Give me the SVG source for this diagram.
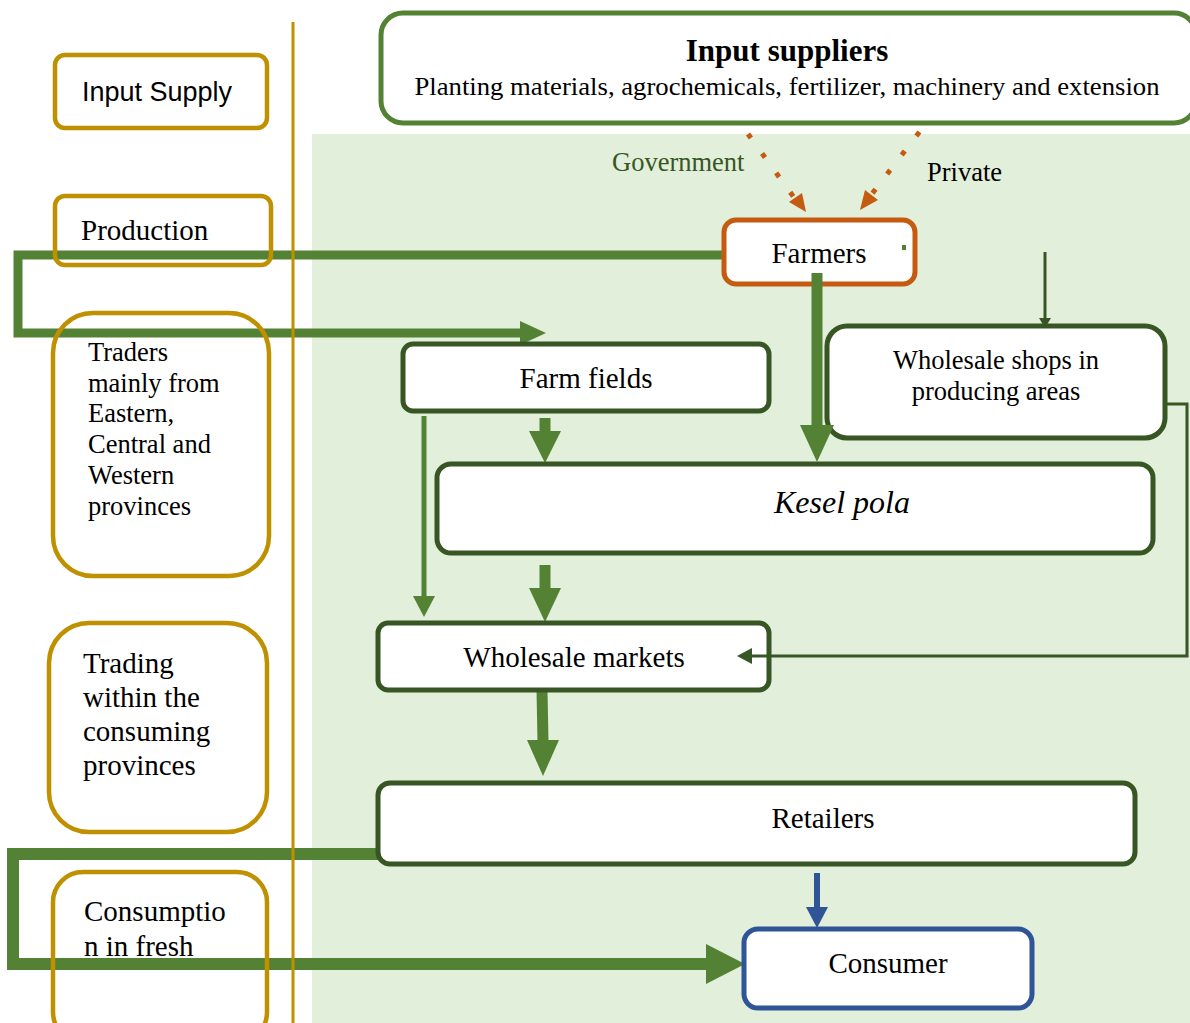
<svg xmlns="http://www.w3.org/2000/svg" width="1190" height="1023" viewBox="0 0 1190 1023">
<defs>
<style>
.goldfill{fill:#fff;stroke:none}
.gold{fill:none;stroke:#bf9000;stroke-width:4.5}
.node{fill:#fff;stroke:#375623;stroke-width:5}
.t{font-family:"Liberation Serif",serif;fill:#000}
.ts{font-family:"Liberation Sans",sans-serif;fill:#000}
.dot{fill:none;stroke:#c55a11;stroke-width:5;stroke-dasharray:5,19}
</style>
</defs>
<rect x="312" y="134" width="878" height="889" fill="#e2efda"/>

<g id="lane-fills">
<rect class="goldfill" x="55" y="55" width="212" height="73" rx="10"/>
<rect class="goldfill" x="55" y="196" width="216" height="69" rx="10"/>
<rect class="goldfill" x="53" y="313" width="216" height="263" rx="40"/>
<rect class="goldfill" x="49" y="623" width="218" height="209" rx="40"/>
<rect class="goldfill" x="53" y="872" width="214" height="170" rx="30"/>
</g>

<g id="connectors">
<path class="dot" d="M748,134 L798,203"/>
<polygon points="806,212 802,193 789,202" fill="#c55a11"/>
<path class="dot" d="M934,113 L868,199"/>
<polygon points="860,210 878,200 865,190" fill="#c55a11"/>
<polyline points="724,255 18,255 18,333 522,333" fill="none" stroke="#548235" stroke-width="9"/>
<polygon points="520,321 546,333 520,345" fill="#548235"/>
<line x1="1045" y1="252" x2="1045" y2="320" stroke="#375623" stroke-width="3"/>
<polygon points="1039,318 1051,318 1045,328" fill="#375623"/>
<polyline points="1165,404 1187,404 1187,656 770,656" fill="none" stroke="#375623" stroke-width="3"/>
<line x1="424" y1="416" x2="424" y2="598" stroke="#548235" stroke-width="5"/>
<polygon points="413,596 435,596 424,617" fill="#548235"/>
<line x1="545" y1="418" x2="545" y2="433" stroke="#548235" stroke-width="11"/>
<polygon points="529,431 561,431 545,463" fill="#548235"/>
<line x1="545" y1="565" x2="545" y2="590" stroke="#548235" stroke-width="11"/>
<polygon points="529,588 561,588 545,622" fill="#548235"/>
<line x1="542" y1="690" x2="543" y2="742" stroke="#548235" stroke-width="11"/>
<polygon points="527,740 559,740 543,776" fill="#548235"/>
<polyline points="378,854 13,854 13,964 710,964" fill="none" stroke="#548235" stroke-width="12"/>
<polygon points="706,944 745,964 706,984" fill="#548235"/>
<line x1="817" y1="873" x2="817" y2="910" stroke="#2f5597" stroke-width="6"/>
<polygon points="806,907 828,907 817,928" fill="#2f5597"/>
</g>

<line x1="293" y1="22" x2="293" y2="1023" stroke="#bf9000" stroke-width="3"/>

<g id="lane-input"><rect class="gold" x="55" y="55" width="212" height="73" rx="10"/><text class="ts" x="82" y="101" font-size="27">Input Supply</text></g>
<g id="lane-production"><rect class="gold" x="55" y="196" width="216" height="69" rx="10"/><text class="t" x="81" y="240" font-size="29">Production</text></g>
<g id="lane-traders"><rect class="gold" x="53" y="313" width="216" height="263" rx="40"/>
<text class="t" font-size="26.5"><tspan x="88" y="361">Traders</tspan><tspan x="88" y="392">mainly from</tspan><tspan x="88" y="422">Eastern,</tspan><tspan x="88" y="453">Central and</tspan><tspan x="88" y="484">Western</tspan><tspan x="88" y="515">provinces</tspan></text></g>
<g id="lane-trading"><rect class="gold" x="49" y="623" width="218" height="209" rx="40"/>
<text class="t" font-size="29"><tspan x="83" y="673">Trading</tspan><tspan x="83" y="707">within the</tspan><tspan x="83" y="741">consuming</tspan><tspan x="83" y="775">provinces</tspan></text></g>
<g id="lane-consumption"><rect class="gold" x="53" y="872" width="214" height="170" rx="30"/>
<text class="t" font-size="29"><tspan x="84" y="921">Consumptio</tspan><tspan x="84" y="956">n in fresh</tspan></text></g>

<g id="input-suppliers"><rect x="381" y="13" width="815" height="110" rx="22" fill="#fff" stroke="#548235" stroke-width="5"/>
<text class="t" x="787" y="61" font-size="31" font-weight="bold" text-anchor="middle">Input suppliers</text>
<text class="t" x="787" y="95" font-size="26" text-anchor="middle" textLength="745" lengthAdjust="spacingAndGlyphs">Planting materials, agrochemicals, fertilizer, machinery and extension</text></g>
<text class="t" x="612" y="171" font-size="26.5" style="fill:#375623">Government</text>
<text class="t" x="927" y="181" font-size="26.5">Private</text>

<g id="farmers"><rect x="724" y="220" width="191" height="64" rx="12" fill="#fff" stroke="#c55a11" stroke-width="5"/>
<text class="t" x="819" y="263" font-size="29" text-anchor="middle">Farmers</text>
<rect x="902" y="245" width="4" height="5" fill="#548235"/></g>
<g id="wholesale-shops"><rect class="node" x="827" y="326" width="338" height="112" rx="20"/>
<text class="t" font-size="26.5" text-anchor="middle"><tspan x="996" y="369">Wholesale shops in</tspan><tspan x="996" y="400">producing areas</tspan></text></g>
<g id="farm-fields"><rect class="node" x="403" y="344" width="366" height="67" rx="10"/>
<text class="t" x="586" y="388" font-size="29" text-anchor="middle">Farm fields</text></g>
<g id="kesel-pola"><rect class="node" x="437" y="464" width="716" height="89" rx="14"/>
<text class="t" x="842" y="513" font-size="32" font-style="italic" text-anchor="middle">Kesel pola</text></g>
<g id="wholesale-markets"><rect class="node" x="378" y="623" width="391" height="67" rx="10"/>
<text class="t" x="574" y="667" font-size="29" text-anchor="middle">Wholesale markets</text></g>
<g id="retailers"><rect class="node" x="378" y="783" width="757" height="81" rx="12"/>
<text class="t" x="823" y="828" font-size="29" text-anchor="middle">Retailers</text></g>
<g id="consumer"><rect x="744" y="929" width="288" height="79" rx="14" fill="#fff" stroke="#2f5597" stroke-width="5"/>
<text class="t" x="888" y="973" font-size="29" text-anchor="middle">Consumer</text></g>

<g id="connectors-top">
<line x1="817" y1="273" x2="817" y2="428" stroke="#548235" stroke-width="11"/>
<polygon points="800,425 834,425 817,462" fill="#548235"/>
<line x1="767" y1="656" x2="750" y2="656" stroke="#375623" stroke-width="3"/>
<polygon points="752,648 737,656 752,664" fill="#375623"/>
</g>
</svg>
